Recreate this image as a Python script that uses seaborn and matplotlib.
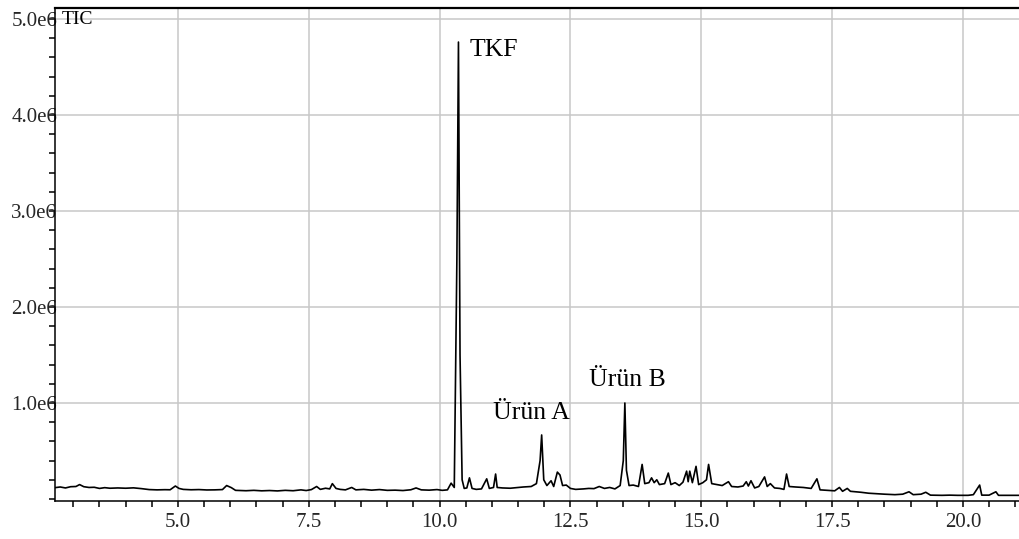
import matplotlib
matplotlib.use("Agg")
import matplotlib.pyplot as plt
import matplotlib.ticker as mticker
import seaborn as sns
import pandas as pd

# Retention time (min) and TIC intensity (counts)
times = [2.65, 2.75, 2.85, 2.95, 3.05, 3.12, 3.2, 3.3, 3.4, 3.5, 3.6, 3.7, 3.85, 4.0, 4.15,
         4.3, 4.45, 4.6, 4.75, 4.85, 4.95, 5.02, 5.1, 5.25, 5.4, 5.55, 5.7, 5.85, 5.93, 6.02,
         6.1, 6.3, 6.45, 6.6, 6.75, 6.9, 7.05, 7.2, 7.35, 7.45, 7.55, 7.65, 7.72, 7.82, 7.9,
         7.95, 8.02, 8.1, 8.2, 8.32, 8.4, 8.55, 8.7, 8.85, 9.0, 9.15, 9.3, 9.45, 9.55, 9.65,
         9.8, 9.95, 10.05, 10.15, 10.22, 10.28, 10.33, 10.36, 10.39, 10.43, 10.47, 10.52, 10.57,
         10.62, 10.7, 10.8, 10.9, 10.95, 11.03, 11.07, 11.1, 11.2, 11.35, 11.5, 11.6, 11.75,
         11.85, 11.92, 11.95, 11.99, 12.05, 12.13, 12.18, 12.25, 12.3, 12.35, 12.42, 12.5,
         12.6, 12.75, 12.85, 12.95, 13.05, 13.15, 13.25, 13.35, 13.45, 13.51, 13.54, 13.57,
         13.62, 13.7, 13.8, 13.87, 13.92, 14.0, 14.05, 14.1, 14.15, 14.2, 14.3, 14.37, 14.42,
         14.5, 14.58, 14.65, 14.72, 14.75, 14.78, 14.83, 14.9, 14.95, 15.03, 15.1, 15.14, 15.2,
         15.3, 15.4, 15.52, 15.58, 15.7, 15.8, 15.86, 15.9, 15.95, 16.02, 16.1, 16.21, 16.26,
         16.32, 16.4, 16.5, 16.58, 16.63, 16.68, 16.8, 16.95, 17.1, 17.21, 17.27, 17.4, 17.55,
         17.64, 17.7, 17.79, 17.85, 17.95, 18.05, 18.2, 18.35, 18.5, 18.7, 18.85, 18.97, 19.05,
         19.2, 19.29, 19.38, 19.6, 19.75, 19.9, 20.1, 20.2, 20.32, 20.36, 20.5, 20.63, 20.68,
         20.9, 21.15]
intensity = [118000, 125000, 115000, 128000, 130000, 150000, 128000, 120000, 122000, 110000,
             118000, 112000, 115000, 112000, 116000, 108000, 98000, 95000, 97000, 96000,
             135000, 110000, 100000, 96000, 98000, 94000, 95000, 98000, 140000, 118000,
             90000, 86000, 90000, 85000, 88000, 84000, 90000, 86000, 95000, 88000,
             98000, 130000, 100000, 112000, 105000, 160000, 110000, 100000, 95000, 120000,
             95000, 100000, 92000, 98000, 90000, 92000, 88000, 96000, 115000, 95000,
             92000, 98000, 90000, 95000, 165000, 120000, 2500000, 4760000, 1500000, 200000,
             110000, 115000, 220000, 110000, 100000, 105000, 210000, 110000, 120000, 260000,
             120000, 115000, 112000, 120000, 125000, 130000, 160000, 400000, 667000, 200000,
             140000, 190000, 130000, 280000, 250000, 140000, 145000, 110000, 100000, 105000,
             110000, 108000, 130000, 110000, 120000, 105000, 140000, 400000, 1000000, 300000,
             140000, 145000, 130000, 360000, 160000, 170000, 220000, 170000, 200000, 150000,
             160000, 270000, 150000, 170000, 140000, 175000, 290000, 180000, 290000, 170000,
             340000, 150000, 170000, 200000, 360000, 160000, 150000, 140000, 180000, 130000,
             125000, 135000, 180000, 135000, 190000, 115000, 130000, 230000, 130000, 160000,
             115000, 110000, 100000, 260000, 130000, 125000, 120000, 110000, 210000, 95000,
             90000, 85000, 120000, 80000, 110000, 80000, 75000, 70000, 60000, 55000,
             50000, 45000, 50000, 75000, 45000, 50000, 70000, 40000, 38000, 40000,
             38000, 38000, 45000, 145000, 40000, 40000, 75000, 38000, 38000, 38000]

peak_labels = ["TKF", "Ürün A", "Ürün B"]
label_x = [10.57, 11.75, 13.58]
label_y = [4.68e6, 0.90e6, 1.24e6]

xticks = [5.0, 7.5, 10.0, 12.5, 15.0, 17.5, 20.0]
yticks = [1.0e6, 2.0e6, 3.0e6, 4.0e6, 5.0e6]
ytick_labels = ["1.0e6", "2.0e6", "3.0e6", "4.0e6", "5.0e6"]

df = pd.DataFrame({"time": times, "tic": intensity})

sns.set_style("white")
plt.rcParams["font.family"] = ["Liberation Serif", "DejaVu Serif"]

fig = plt.figure(figsize=(10.2, 5.39), dpi=100)
ax = fig.add_axes([55 / 1020, 1 - 501 / 539, 1 - 55 / 1020 + 0.002, (501 - 8) / 539])

sns.lineplot(data=df, x="time", y="tic", ax=ax, color="black", linewidth=1.2,
             sort=False, estimator=None)

ax.set_xlim(2.65, 21.13)
ax.set_ylim(-0.021e6, 5.115e6)

ax.set_xticks(xticks)
ax.set_xticklabels([f"{v:.1f}" for v in xticks])
ax.xaxis.set_minor_locator(mticker.MultipleLocator(0.5))
ax.set_yticks(yticks)
ax.set_yticklabels(ytick_labels)
ax.yaxis.set_minor_locator(mticker.MultipleLocator(0.2e6))

ax.grid(True, which="major", color="#c8c8c8", linewidth=1.1)
ax.set_axisbelow(True)

ax.tick_params(axis="x", which="both", bottom=True, direction="out", length=4.5, width=1.1,
               color="black", labelsize=15, pad=4)
ax.tick_params(axis="y", which="both", left=True, direction="out", length=4.5, width=1.1,
               color="black", labelsize=15, pad=-6)
for lbl in ax.get_yticklabels():
    lbl.set_zorder(5)

for side in ["left", "bottom"]:
    ax.spines[side].set_color("black")
    ax.spines[side].set_linewidth(1.1)
ax.spines["top"].set_color("black")
ax.spines["top"].set_linewidth(1.6)
ax.spines["right"].set_visible(False)

ax.set_xlabel("")
ax.set_ylabel("")

ax.text(2.78, 5.0e6, "TIC", ha="left", va="center", fontsize=14, color="black")
for lab, lx, ly in zip(peak_labels, label_x, label_y):
    ha = "left" if lab == "TKF" else "center"
    ax.text(lx, ly, lab, ha=ha, va="center", fontsize=18.5, color="black")

fig.savefig("out.png", dpi=100)
